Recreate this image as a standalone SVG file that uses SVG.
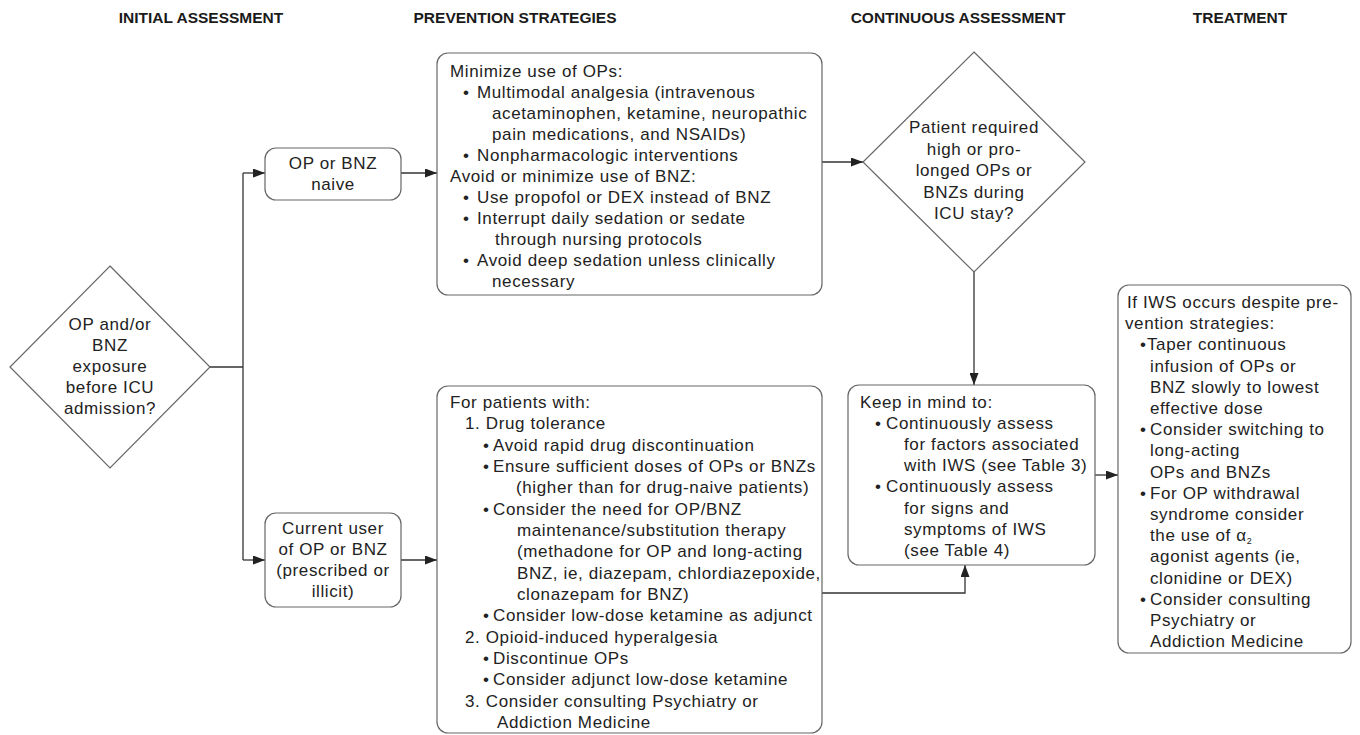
<svg xmlns="http://www.w3.org/2000/svg" width="1360" height="735" viewBox="0 0 1360 735">
<style>
.hd{font-family:"Liberation Sans",Arial,sans-serif;font-size:15.5px;font-weight:bold;fill:#1a1a1a;text-anchor:middle}
.t{font-family:"Liberation Sans",Arial,sans-serif;font-size:17px;letter-spacing:0.62px;fill:#222}
.c{text-anchor:middle}
.box{fill:#fff;stroke:#666;stroke-width:1.2}
.ln{fill:none;stroke:#333;stroke-width:1.3}
</style>
<defs>
<marker id="ah" markerWidth="12" markerHeight="9" refX="12" refY="4.5" orient="auto" markerUnits="userSpaceOnUse">
<path d="M0,0 L12,4.5 L0,9 z" fill="#222"/>
</marker>
</defs>
<rect width="1360" height="735" fill="#fff"/>

<g id="headers">
<text class="hd" x="201" y="23">INITIAL ASSESSMENT</text>
<text class="hd" x="515" y="23">PREVENTION STRATEGIES</text>
<text class="hd" x="958" y="23">CONTINUOUS ASSESSMENT</text>
<text class="hd" x="1240" y="23">TREATMENT</text>
</g>

<g id="connectors">
<path class="ln" d="M210,367 H243"/>
<path class="ln" d="M243,173 V560"/>
<path class="ln" d="M243,173 H265" marker-end="url(#ah)"/>
<path class="ln" d="M243,560 H265" marker-end="url(#ah)"/>
<path class="ln" d="M401,173 H437" marker-end="url(#ah)"/>
<path class="ln" d="M401,560 H437" marker-end="url(#ah)"/>
<path class="ln" d="M822,162 H863" marker-end="url(#ah)"/>
<path class="ln" d="M974,272 V385" marker-end="url(#ah)"/>
<path class="ln" d="M822,593 H965 V565" marker-end="url(#ah)"/>
<path class="ln" d="M1095,475 H1118" marker-end="url(#ah)"/>
</g>

<g id="exposure-diamond">
<polygon class="box" points="110,266 210,367 110,468 10,367"/>
<text class="t c" x="110" y="330">OP and/or</text>
<text class="t c" x="110" y="351">BNZ</text>
<text class="t c" x="110" y="372">exposure</text>
<text class="t c" x="110" y="393">before ICU</text>
<text class="t c" x="110" y="414">admission?</text>
</g>

<g id="naive">
<rect class="box" x="265" y="148" width="136" height="52" rx="11"/>
<text class="t c" x="333" y="169">OP or BNZ</text>
<text class="t c" x="333" y="190">naive</text>
</g>

<g id="current-user">
<rect class="box" x="265" y="513" width="136" height="94" rx="11"/>
<text class="t c" x="333" y="534">Current user</text>
<text class="t c" x="333" y="555">of OP or BNZ</text>
<text class="t c" x="333" y="576">(prescribed or</text>
<text class="t c" x="333" y="597">illicit)</text>
</g>

<g id="prevention-naive">
<rect class="box" x="437" y="53" width="385" height="242" rx="11"/>
<text class="t" x="450" y="77">Minimize use of OPs:</text>
<text class="t" y="98"><tspan x="463">•</tspan><tspan x="477">Multimodal analgesia (intravenous</tspan></text>
<text class="t" x="492" y="119">acetaminophen, ketamine, neuropathic</text>
<text class="t" x="492" y="140">pain medications, and NSAIDs)</text>
<text class="t" y="161"><tspan x="463">•</tspan><tspan x="477">Nonpharmacologic interventions</tspan></text>
<text class="t" x="450" y="182">Avoid or minimize use of BNZ:</text>
<text class="t" y="203"><tspan x="463">•</tspan><tspan x="477">Use propofol or DEX instead of BNZ</tspan></text>
<text class="t" y="224"><tspan x="463">•</tspan><tspan x="477">Interrupt daily sedation or sedate</tspan></text>
<text class="t" x="495" y="245">through nursing protocols</text>
<text class="t" y="266"><tspan x="463">•</tspan><tspan x="477">Avoid deep sedation unless clinically</tspan></text>
<text class="t" x="492" y="287">necessary</text>
</g>

<g id="prevention-current">
<rect class="box" x="437" y="386" width="385" height="347" rx="11"/>
<text class="t" x="450" y="408">For patients with:</text>
<text class="t" x="465" y="429.3">1. Drug tolerance</text>
<text class="t" y="450.7"><tspan x="483">•</tspan><tspan x="493">Avoid rapid drug discontinuation</tspan></text>
<text class="t" y="472"><tspan x="483">•</tspan><tspan x="493">Ensure sufficient doses of OPs or BNZs</tspan></text>
<text class="t" x="516" y="493.3">(higher than for drug-naive patients)</text>
<text class="t" y="514.7"><tspan x="483">•</tspan><tspan x="493">Consider the need for OP/BNZ</tspan></text>
<text class="t" x="517" y="536">maintenance/substitution therapy</text>
<text class="t" x="517" y="557.3">(methadone for OP and long-acting</text>
<text class="t" x="517" y="578.7">BNZ, ie, diazepam, chlordiazepoxide,</text>
<text class="t" x="517" y="600">clonazepam for BNZ)</text>
<text class="t" y="621.3"><tspan x="483">•</tspan><tspan x="493">Consider low-dose ketamine as adjunct</tspan></text>
<text class="t" x="465" y="642.7">2. Opioid-induced hyperalgesia</text>
<text class="t" y="664"><tspan x="483">•</tspan><tspan x="493">Discontinue OPs</tspan></text>
<text class="t" y="685.3"><tspan x="483">•</tspan><tspan x="493">Consider adjunct low-dose ketamine</tspan></text>
<text class="t" x="465" y="706.7">3. Consider consulting Psychiatry or</text>
<text class="t" x="497" y="728">Addiction Medicine</text>
</g>

<g id="icu-diamond">
<polygon class="box" points="974,52 1085,162 974,272 863,162"/>
<text class="t c" x="974" y="133">Patient required</text>
<text class="t c" x="974" y="154.5">high or pro-</text>
<text class="t c" x="974" y="176">longed OPs or</text>
<text class="t c" x="974" y="197.5">BNZs during</text>
<text class="t c" x="974" y="219">ICU stay?</text>
</g>

<g id="keep-in-mind">
<rect class="box" x="848" y="385" width="247" height="180" rx="11"/>
<text class="t" x="860" y="407.5">Keep in mind to:</text>
<text class="t" y="428.7"><tspan x="875">•</tspan><tspan x="886">Continuously assess</tspan></text>
<text class="t" x="904" y="449.9">for factors associated</text>
<text class="t" x="904" y="471.1">with IWS (see Table 3)</text>
<text class="t" y="492.3"><tspan x="875">•</tspan><tspan x="886">Continuously assess</tspan></text>
<text class="t" x="904" y="513.5">for signs and</text>
<text class="t" x="904" y="534.7">symptoms of IWS</text>
<text class="t" x="904" y="555.9">(see Table 4)</text>
</g>

<g id="treatment">
<rect class="box" x="1118" y="285" width="233" height="368" rx="11"/>
<text class="t" x="1127" y="308">If IWS occurs despite pre-</text>
<text class="t" x="1125" y="329.2">vention strategies:</text>
<text class="t" y="350.4"><tspan x="1140">•</tspan><tspan x="1147">Taper continuous</tspan></text>
<text class="t" x="1150" y="371.6">infusion of OPs or</text>
<text class="t" x="1150" y="392.8">BNZ slowly to lowest</text>
<text class="t" x="1150" y="414">effective dose</text>
<text class="t" y="435.2"><tspan x="1140">•</tspan><tspan x="1150">Consider switching to</tspan></text>
<text class="t" x="1150" y="456.4">long-acting</text>
<text class="t" x="1150" y="477.6">OPs and BNZs</text>
<text class="t" y="498.8"><tspan x="1140">•</tspan><tspan x="1150">For OP withdrawal</tspan></text>
<text class="t" x="1150" y="520">syndrome consider</text>
<text class="t" x="1150" y="541.2">the use of α<tspan font-size="9" dy="3">2</tspan></text>
<text class="t" x="1150" y="562.4">agonist agents (ie,</text>
<text class="t" x="1150" y="583.6">clonidine or DEX)</text>
<text class="t" y="604.8"><tspan x="1140">•</tspan><tspan x="1150">Consider consulting</tspan></text>
<text class="t" x="1150" y="626">Psychiatry or</text>
<text class="t" x="1150" y="647.2">Addiction Medicine</text>
</g>
</svg>
